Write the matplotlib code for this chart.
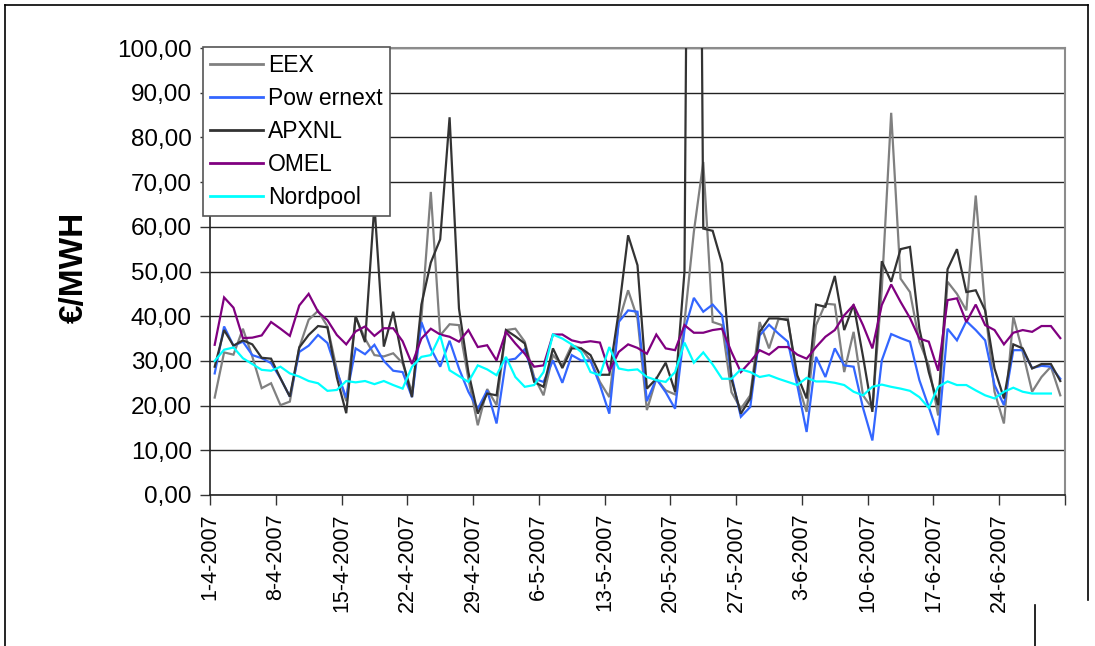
import matplotlib
matplotlib.use('Agg')
import matplotlib.pyplot as plt
from matplotlib.lines import Line2D
import numpy as np

plt.rcParams['font.family'] = ['Liberation Sans', 'DejaVu Sans']

# ---- data: daily prices, 1-4-2007 .. 30-6-2007 ----
tick_labels = ['1-4-2007', '8-4-2007', '15-4-2007', '22-4-2007', '29-4-2007',
               '6-5-2007', '13-5-2007', '20-5-2007', '27-5-2007', '3-6-2007',
               '10-6-2007', '17-6-2007', '24-6-2007']

eex = [21.8, 31.9, 31.4, 37.2, 31.0, 23.9, 25.0, 20.1, 20.9, 33.0,
       39.2, 41.2, 37.7, 28.0, 21.0, 39.9, 35.0, 31.3, 31.0, 31.7,
       29.5, 23.0, 39.5, 67.8, 35.7, 38.2, 38.0, 26.0, 15.6, 23.7,
       20.1, 36.9, 37.2, 34.3, 26.4, 22.3, 31.3, 29.0, 33.5, 32.8,
       30.1, 25.3, 21.9, 38.7, 45.8, 39.5, 19.0, 26.0, 23.4, 22.5,
       38.7, 58.9, 74.5, 38.7, 38.0, 23.0, 19.3, 22.3, 38.7, 32.8,
       39.3, 39.5, 25.3, 18.6, 38.0, 42.8, 42.6, 27.5, 36.5, 22.3,
       19.3, 46.0, 85.5, 48.4, 45.4, 34.3, 29.0, 17.8, 47.7, 45.0,
       41.3, 67.0, 41.7, 23.1, 16.0, 39.9, 32.0, 23.1, 26.4, 28.7,
       22.3]

powernext = [27.2, 37.7, 33.4, 34.3, 31.3, 30.6, 29.5, 26.1, 22.0, 32.0,
             33.4, 35.8, 34.0, 27.6, 21.8, 32.8, 31.5, 33.6, 30.0, 27.8,
             27.5, 21.9, 38.7, 32.8, 28.7, 34.5, 28.3, 23.1, 19.3, 23.4,
             16.0, 30.1, 30.5, 32.6, 26.0, 25.3, 30.1, 25.1, 31.3, 30.1,
             30.1, 24.6, 18.2, 38.7, 41.3, 41.0, 21.0, 26.0, 23.0, 19.3,
             36.9, 44.1, 41.0, 42.6, 40.2, 26.8, 17.5, 19.7, 35.7, 38.1,
             36.1, 34.3, 24.6, 14.1, 30.9, 26.4, 32.8, 29.0, 28.7, 19.5,
             12.2, 30.1, 36.0, 35.1, 34.3, 25.7, 19.7, 13.4, 37.2, 34.6,
             38.9, 36.9, 34.6, 24.6, 20.1, 32.4, 32.4, 28.4, 28.9, 28.7,
             26.0]

apxnl = [28.7, 36.9, 33.4, 34.6, 33.7, 30.7, 30.5, 26.1, 22.0, 33.0,
         35.8, 37.8, 37.5, 26.3, 18.3, 40.0, 34.2, 65.0, 33.2, 41.0,
         30.1, 21.9, 42.6, 52.0, 57.2, 84.5, 41.7, 27.5, 18.2, 22.7,
         22.3, 36.9, 35.5, 33.9, 25.3, 24.2, 32.8, 28.4, 32.8, 32.8,
         31.3, 26.9, 26.9, 41.0, 58.1, 51.4, 23.8, 26.0, 29.6, 23.1,
         50.0, 350.0, 59.6, 59.1, 51.8, 26.0, 18.2, 21.6, 36.5, 39.5,
         39.5, 39.1, 26.8, 21.6, 42.6, 42.1, 49.0, 36.9, 42.6, 31.0,
         18.6, 52.3, 47.7, 55.0, 55.5, 37.2, 27.5, 20.1, 50.5, 55.0,
         45.4, 45.8, 41.3, 28.3, 21.6, 33.7, 32.8, 28.3, 29.3, 29.3,
         25.5]

omel = [33.6, 44.2, 41.9, 35.1, 35.2, 35.7, 38.7, 37.2, 35.6, 42.4,
        45.0, 41.0, 39.1, 35.8, 33.7, 36.6, 37.7, 35.6, 37.3, 37.3,
        34.4, 29.3, 35.0, 37.2, 35.9, 35.4, 34.3, 36.9, 33.1, 33.5,
        30.1, 36.5, 33.9, 31.6, 28.7, 29.0, 35.9, 35.9, 34.6, 34.1,
        34.4, 34.1, 27.7, 32.0, 33.7, 32.9, 31.6, 35.9, 32.8, 32.4,
        38.0, 36.3, 36.3, 36.9, 37.2, 32.0, 27.5, 29.8, 32.4, 31.4,
        33.1, 33.1, 31.4, 30.5, 33.1, 35.4, 36.9, 40.2, 42.5, 38.0,
        32.8, 42.5, 47.1, 43.2, 39.6, 35.0, 34.3, 27.8, 43.6, 44.0,
        38.7, 42.6, 38.0, 36.9, 33.7, 36.3, 36.9, 36.5, 37.8, 37.8,
        35.1]

nordpool = [30.0, 32.5, 33.0, 30.6, 29.3, 28.0, 27.8, 28.7, 27.2, 26.5,
            25.5, 25.0, 23.3, 23.5, 25.5, 25.2, 25.5, 24.8, 25.5, 24.6,
            23.8, 28.7, 30.9, 31.3, 35.7, 27.9, 26.6, 25.3, 29.0, 28.1,
            26.8, 30.9, 26.4, 24.2, 24.6, 27.5, 35.9, 35.0, 33.7, 32.0,
            27.5, 26.8, 33.1, 28.3, 27.9, 28.1, 26.4, 25.7, 25.3, 27.5,
            34.1, 29.6, 31.9, 29.2, 26.0, 26.0, 28.1, 27.5, 26.4, 26.8,
            26.0, 25.3, 24.6, 26.2, 25.4, 25.4, 25.1, 24.6, 23.1, 22.3,
            24.2, 24.7, 24.2, 23.8, 23.3, 21.9, 19.5, 24.2, 25.4, 24.6,
            24.6, 23.4, 22.3, 21.6, 23.1, 24.0, 23.1, 22.7, 22.7, 22.7]

series_names = ['EEX', 'Pow ernext', 'APXNL', 'OMEL', 'Nordpool']
series_colors = ['#808080', '#3366FF', '#333333', '#800080', '#00FFFF']
y_ticks = [0, 10, 20, 30, 40, 50, 60, 70, 80, 90, 100]

# ---- figure ----
W, H = 1095, 646
fig = plt.figure(figsize=(W / 100, H / 100), dpi=100)
fig.patch.set_facecolor('white')

L, R, T, B = 210, 1065, 48, 495
ax = fig.add_axes([L / W, 1 - B / H, (R - L) / W, (B - T) / H])

all_series = [eex, powernext, apxnl, omel, nordpool]
for vals, name, col in zip(all_series, series_names, series_colors):
    x = np.arange(len(vals))
    ax.plot(x, vals, color=col, lw=1.6, label=name, solid_joinstyle='miter', zorder=3)

ndays = 91
ax.set_xlim(-0.5, ndays - 0.5)
ax.set_ylim(0, 100)

ax.set_yticks(y_ticks)
ax.set_yticklabels([f'{v:.2f}'.replace('.', ',') for v in y_ticks], fontsize=17.5)
ax.yaxis.grid(True, color='#222222', lw=1.0, zorder=1)
ax.set_axisbelow(True)

xt = np.arange(-0.5, ndays, 7)
ax.set_xticks(xt)
lbls = tick_labels + [''] * (len(xt) - len(tick_labels))
ax.set_xticklabels(lbls, rotation=90, fontsize=15.5)

ax.tick_params(axis='both', direction='out', length=7, width=1.0, color='#333333')
ax.tick_params(axis='y', pad=6)
ax.tick_params(axis='x', pad=6)

for s in ['left', 'bottom']:
    ax.spines[s].set_color('#222222')
    ax.spines[s].set_linewidth(1.2)
for s in ['top', 'right']:
    ax.spines[s].set_color('#8c8c8c')
    ax.spines[s].set_linewidth(1.5)

fig.text(74 / W, 1 - 267 / H, '€/MWH', rotation=90, ha='center', va='center',
         fontsize=24, fontweight='bold')

leg = ax.legend(loc='upper left', bbox_to_anchor=(-7 / (R - L), 1.003),
                fontsize=16.5, frameon=True, fancybox=False, handlelength=2.3,
                handletextpad=0.25, labelspacing=0.44, borderpad=0.3,
                borderaxespad=0)
leg.get_frame().set_edgecolor('#555555')
leg.get_frame().set_linewidth(1.2)
leg.get_frame().set_alpha(1)
for lh in leg.get_lines():
    lh.set_linewidth(2.0)

# outer chart border
def fline(x0, y0, x1, y1):
    fig.add_artist(Line2D([x0 / W, x1 / W], [1 - y0 / H, 1 - y1 / H],
                          color='black', lw=1.2))

fline(5, 5, 1088, 5)
fline(5, 5, 5, H)
fline(1088, 5, 1088, 600)
fline(1035, 605, 1035, H)

fig.savefig('out.png', dpi=100)
